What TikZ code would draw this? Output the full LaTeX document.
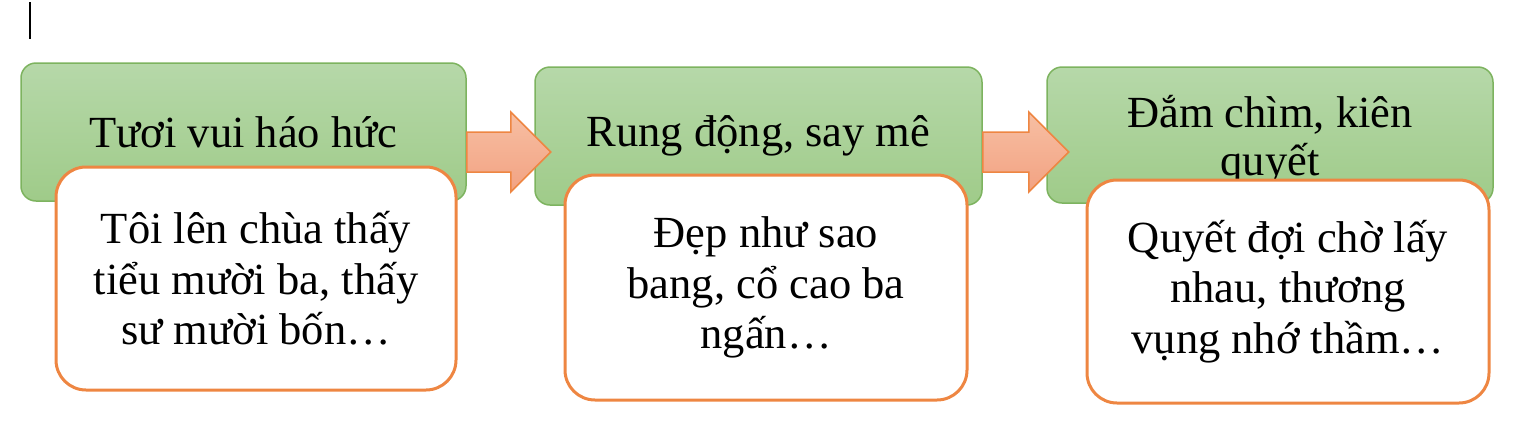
\documentclass[tikz,border=0pt]{standalone}
\usepackage{fontspec}
\setmainfont{Liberation Serif}
\usetikzlibrary{calc}
\definecolor{gtop}{HTML}{B6D8A9}
\definecolor{gbot}{HTML}{9FCB89}
\definecolor{gline}{HTML}{7DB35F}
\definecolor{oline}{HTML}{EE8642}
\definecolor{atop}{HTML}{F7BFA3}
\definecolor{abot}{HTML}{F2A282}
\tikzset{
  greenbox/.style={rectangle, rounded corners=15pt, draw=gline, line width=1.5pt,
    top color=gtop, bottom color=gbot, inner sep=0pt, align=center,
    font=\fontsize{44.5}{48}\selectfont},
  greentext/.style={inner sep=0pt, align=center, font=\fontsize{44.5}{48}\selectfont},
  whitebox/.style={rectangle, rounded corners=30pt, draw=oline, line width=3pt,
    fill=white, inner sep=0pt, align=center,
    font=\fontsize{44.5}{50.5}\selectfont},
  arr/.style={draw=oline, line width=1.5pt, top color=atop, bottom color=abot, line join=miter}
}
\begin{document}
\begin{tikzpicture}[x=1pt,y=-1pt]
\useasboundingbox (0,0) rectangle (1521,445);
\draw[line width=2pt] (30,2) -- (30,39);
% green boxes
\node[greenbox, minimum width=445pt, minimum height=138pt] (g1) at (243.5,132) {Tươi vui háo hức};
\node[greenbox, minimum width=447pt, minimum height=138pt] (g2) at (758.5,136) {Rung động, say mê};
\node[greenbox, minimum width=446pt, minimum height=136pt] (g3) at (1270,135) {};
\node[greentext] (g3t) at ($(g3.center)+(0,5)$) {Đắm chìm, kiên\\quyết};
% arrows
\path (g1.east) ++(0,20) coordinate (a1s);
\draw[arr] (a1s) ++(0,-20) -- ++(44,0) -- ++(0,-20) -- ++(40,40) -- ++(-40,40) -- ++(0,-20) -- ++(-44,0) -- cycle;
\path (g2.east) ++(0,16) coordinate (a2s);
\draw[arr] (a2s) ++(0,-20) -- ++(46,0) -- ++(0,-20) -- ++(40,40) -- ++(-40,40) -- ++(0,-20) -- ++(-46,0) -- cycle;
% white boxes
\node[whitebox, minimum width=400pt, minimum height=223pt] (w1) at (256,278.5) {Tôi lên chùa thấy\\tiểu mười ba, thấy\\sư mười bốn…};
\node[whitebox, minimum width=402pt, minimum height=225pt] (w2) at (766,287.5) {Đẹp như sao\\bang, cổ cao ba\\ngấn…};
\node[whitebox, minimum width=402pt, minimum height=223pt] (w3) at (1288,291.5) {Quyết đợi chờ lấy\\nhau, thương\\vụng nhớ thầm…};
\end{tikzpicture}
\end{document}
